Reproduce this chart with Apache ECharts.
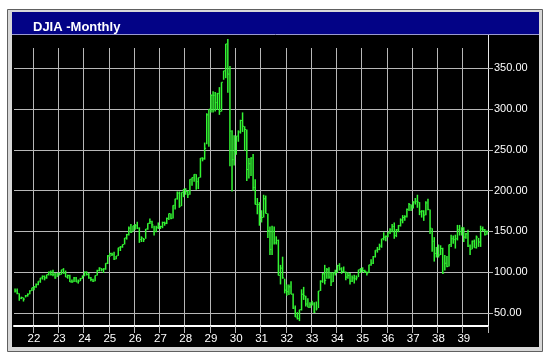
<!DOCTYPE html>
<html>
<head>
<meta charset="utf-8">
<script src="https://cdn.jsdelivr.net/npm/echarts@6/dist/echarts.min.js"></script>
<style>
html,body{margin:0;padding:0;background:#fff;}
#chart{width:550px;height:362px;}
</style>
</head>
<body>
<div id="chart"></div>
<script>
// ---- data (DJIA monthly, Apr 1921 – Dec 1939) ----
const startYear = 1921, startMonth = 4, endYear = 1939;

const highs = [
  /*1921 Apr-Dec*/ 80, 80, 74, 70, 69, 72, 74, 78, 81,
  /*1922*/ 83, 86, 89, 93, 96, 96, 97, 101, 102, 103, 99, 99,
  /*1923*/ 99, 103, 105, 102, 97, 97, 91, 94, 94, 91, 93, 96,
  /*1924*/ 101, 101, 99, 94, 92, 96, 103, 106, 105, 105, 111, 121,
  /*1925*/ 124, 124, 125, 120, 130, 132, 134, 142, 147, 156, 159, 157,
  /*1926*/ 159, 162, 155, 144, 142, 153, 160, 166, 163, 157, 157, 161,
  /*1927*/ 157, 162, 162, 167, 172, 172, 182, 190, 199, 199, 198, 202,
  /*1928*/ 203, 200, 214, 216, 220, 220, 216, 240, 241, 259, 295, 300,
  /*1929*/ 318, 322, 321, 320, 327, 333, 347, 380, 386, 353, 274, 268,
  /*1930*/ 267, 274, 287, 296, 279, 275, 240, 241, 245, 214, 191, 186,
  /*1931*/ 176, 195, 194, 172, 156, 157, 156, 144, 140, 109, 119, 92,
  /*1932*/ 85, 85, 89, 74, 59, 51, 54, 79, 82, 71, 68, 63,
  /*1933*/ 65, 63, 64, 77, 90, 99, 109, 105, 106, 100, 100, 103,
  /*1934*/ 109, 111, 106, 107, 101, 100, 99, 96, 97, 96, 103, 105,
  /*1935*/ 106, 103, 101, 109, 116, 120, 127, 131, 135, 141, 149, 145,
  /*1936*/ 149, 154, 159, 161, 153, 158, 166, 170, 170, 178, 185, 183,
  /*1937*/ 187, 191, 195, 186, 176, 176, 187, 190, 177, 154, 143, 131,
  /*1938*/ 134, 133, 130, 121, 120, 134, 146, 145, 146, 158, 158, 155,
  /*1939*/ 155, 148, 152, 134, 139, 140, 145, 142, 157, 156, 153, 151
];
const lows = [
  /*1921*/ 75, 73, 65, 67, 64, 69, 70, 73, 77,
  /*1922*/ 78, 81, 84, 87, 91, 90, 92, 96, 96, 95, 92, 94,
  /*1923*/ 96, 97, 98, 94, 92, 88, 87, 88, 88, 86, 89, 92,
  /*1924*/ 95, 96, 92, 89, 88, 89, 96, 101, 101, 99, 103, 110,
  /*1925*/ 119, 120, 115, 116, 120, 126, 130, 134, 140, 145, 148, 150,
  /*1926*/ 152, 153, 136, 137, 137, 141, 152, 159, 154, 145, 149, 153,
  /*1927*/ 153, 154, 157, 159, 164, 165, 166, 177, 189, 179, 181, 192,
  /*1928*/ 195, 191, 195, 206, 211, 201, 202, 216, 236, 238, 257, 254,
  /*1929*/ 296, 296, 297, 299, 293, 297, 336, 338, 320, 230, 199, 231,
  /*1930*/ 244, 260, 270, 272, 249, 212, 215, 218, 200, 183, 171, 157,
  /*1931*/ 161, 167, 172, 142, 121, 121, 134, 134, 96, 85, 92, 74,
  /*1932*/ 71, 72, 73, 55, 45, 42, 40, 53, 66, 58, 57, 56,
  /*1933*/ 59, 50, 53, 56, 77, 87, 85, 92, 92, 83, 88, 96,
  /*1934*/ 99, 102, 98, 100, 90, 92, 85, 88, 86, 90, 94, 99,
  /*1935*/ 100, 99, 96, 99, 108, 110, 118, 124, 127, 130, 139, 138,
  /*1936*/ 143, 147, 149, 141, 143, 149, 156, 160, 163, 167, 175, 175,
  /*1937*/ 178, 183, 179, 170, 167, 163, 170, 176, 147, 125, 113, 118,
  /*1938*/ 118, 121, 98, 102, 106, 107, 131, 135, 129, 139, 145, 145,
  /*1939*/ 137, 141, 131, 121, 128, 130, 129, 131, 131, 150, 145, 146
];
const closes = [
  /*1921*/ 77, 74, 68, 69, 67, 71, 73, 77, 81,
  /*1922*/ 82, 85, 89, 93, 95, 93, 97, 100, 97, 97, 93, 99,
  /*1923*/ 97, 103, 99, 94, 96, 88, 88, 93, 88, 89, 92, 95,
  /*1924*/ 100, 97, 93, 91, 89, 96, 102, 105, 103, 104, 111, 120,
  /*1925*/ 123, 122, 116, 120, 130, 131, 134, 142, 146, 154, 149, 157,
  /*1926*/ 157, 154, 140, 142, 140, 153, 160, 162, 158, 150, 155, 157,
  /*1927*/ 156, 161, 160, 166, 172, 166, 182, 190, 197, 181, 198, 202,
  /*1928*/ 199, 195, 214, 216, 220, 211, 216, 240, 239, 252, 293, 300,
  /*1929*/ 317, 317, 308, 319, 297, 333, 347, 380, 343, 273, 238, 248,
  /*1930*/ 267, 272, 286, 279, 275, 226, 233, 240, 204, 183, 183, 165,
  /*1931*/ 167, 190, 172, 151, 128, 150, 136, 139, 96, 105, 93, 78,
  /*1932*/ 76, 82, 73, 56, 45, 43, 54, 73, 71, 61, 57, 60,
  /*1933*/ 61, 51, 55, 77, 89, 98, 90, 103, 94, 88, 99, 100,
  /*1934*/ 108, 104, 101, 100, 94, 96, 89, 93, 92, 93, 103, 104,
  /*1935*/ 102, 101, 99, 109, 111, 119, 127, 128, 132, 141, 143, 144,
  /*1936*/ 149, 152, 156, 145, 152, 157, 164, 167, 168, 177, 183, 180,
  /*1937*/ 186, 187, 186, 174, 175, 170, 185, 177, 154, 138, 123, 121,
  /*1938*/ 121, 129, 99, 111, 107, 134, 141, 140, 141, 152, 150, 155,
  /*1939*/ 143, 147, 132, 128, 138, 130, 143, 137, 153, 152, 146, 150
];
const yTicks = [50, 100, 150, 200, 250, 300, 350];
const titleText = 'DJIA -Monthly';

// month categories
const months = [];
for (let y = startYear; y <= endYear; y++) {
  for (let m = (y === startYear ? startMonth : 1); m <= 12; m++) {
    months.push(y + '-' + (m < 10 ? '0' + m : '' + m));
  }
}
const seriesData = months.map((m, i) => [i, highs[i], lows[i], closes[i]]);
const isJan = (idx, val) => months[idx] && months[idx].endsWith('-01');

const GREEN = '#33f533';
const GRIDC = '#b8b8b8';

const chart = echarts.init(document.getElementById('chart'), null, {renderer: 'canvas'});
chart.setOption({
  backgroundColor: '#ffffff',
  animation: false,
  title: {
    text: titleText,
    left: 28, top: 16,
    textStyle: {color: '#ffffff', fontSize: 13, fontWeight: 'bold', fontFamily: 'Liberation Sans, Arial, sans-serif'}
  },
  graphic: [
    {type: 'rect', z: -10, shape: {x: 7.5, y: 9.5, width: 535, height: 342}, style: {fill: '#d8d8d8', stroke: '#606060', lineWidth: 1}},
    {type: 'rect', z: -9, shape: {x: 12, y: 12, width: 527, height: 335}, style: {fill: '#000000'}},
    {type: 'rect', z: -8, shape: {x: 12, y: 12, width: 527, height: 22}, style: {fill: '#030386'}},
    {type: 'line', z: -7, shape: {x1: 12, y1: 34.5, x2: 539, y2: 34.5}, style: {stroke: '#9a9ad0', lineWidth: 1}},
    {type: 'line', z: -7, shape: {x1: 488.5, y1: 35, x2: 488.5, y2: 48}, style: {stroke: '#e8e8e8', lineWidth: 1}}
  ],
  grid: {left: 14, right: 62, top: 48, bottom: 36, containLabel: false},
  xAxis: {
    type: 'category',
    data: months,
    boundaryGap: true,
    axisLine: {show: true, lineStyle: {color: '#ffffff', width: 2}},
    axisTick: {show: true, interval: isJan, length: 7, lineStyle: {color: GRIDC}},
    axisLabel: {
      show: true, interval: isJan, margin: 7,
      formatter: v => v.slice(2, 4),
      color: '#ffffff', fontSize: 11.5, fontFamily: 'Liberation Sans, Arial, sans-serif'
    },
    splitLine: {show: true, interval: isJan, lineStyle: {color: GRIDC, width: 1}}
  },
  yAxis: {
    type: 'value',
    position: 'right',
    min: 34, max: 375,
    axisLine: {show: true, lineStyle: {color: '#e8e8e8', width: 1}},
    axisTick: {show: true, customValues: yTicks, length: 5, inside: false, lineStyle: {color: GRIDC}},
    axisLabel: {
      show: true, customValues: yTicks, margin: 6,
      formatter: v => Number(v).toFixed(2),
      color: '#ffffff', fontSize: 11, fontFamily: 'Liberation Sans, Arial, sans-serif'
    },
    splitLine: {show: true, lineStyle: {color: GRIDC, width: 1}}
  },
  series: [{
    type: 'custom',
    clip: false,
    data: seriesData,
    encode: {x: 0, y: [1, 2, 3]},
    renderItem: function (params, api) {
      const x = api.value(0);
      const hi = api.coord([x, api.value(1)]);
      const lo = api.coord([x, api.value(2)]);
      const cl = api.coord([x, api.value(3)]);
      const w = api.size([1, 0])[0] * 0.7;
      return {
        type: 'group',
        children: [
          {type: 'line', shape: {x1: hi[0], y1: hi[1], x2: lo[0], y2: lo[1]}, style: {stroke: GREEN, lineWidth: 1.5}},
          {type: 'line', shape: {x1: cl[0], y1: cl[1], x2: cl[0] + w, y2: cl[1]}, style: {stroke: GREEN, lineWidth: 1}}
        ]
      };
    }
  }]
});
</script>
</body>
</html>
